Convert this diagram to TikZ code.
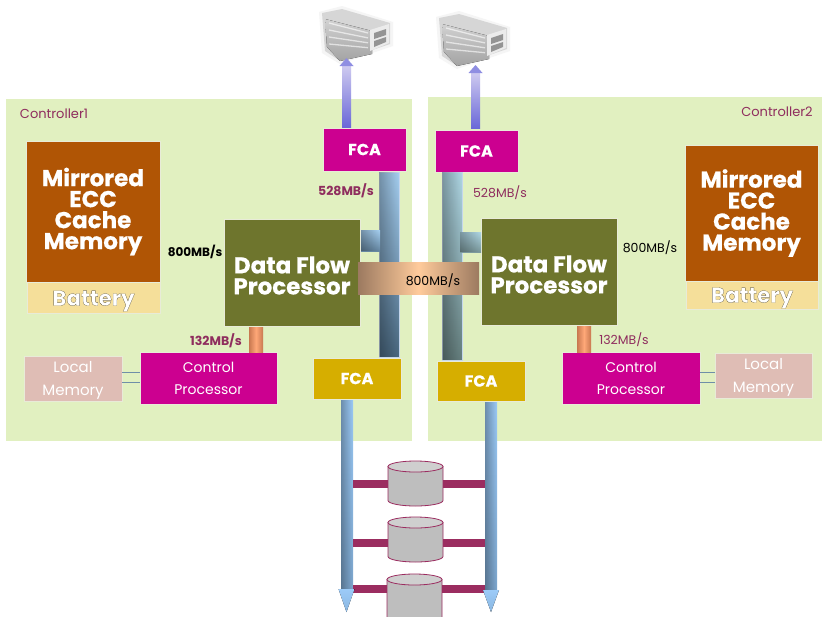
\documentclass[tikz,border=0pt]{standalone}
\usepackage{fontspec}
\setmainfont{Poppins}
\newfontfamily\heavy[UprightFont=* Bold,FakeBold=0.5]{Poppins}
\usetikzlibrary{fadings}
\definecolor{ctrlbg}{HTML}{E1F0C0}
\definecolor{cachebrown}{HTML}{B05505}
\definecolor{battery}{HTML}{F5DF9A}
\definecolor{olive}{HTML}{6E752D}
\definecolor{magbox}{HTML}{CC0090}
\definecolor{goldbox}{HTML}{D6AE00}
\definecolor{localmem}{HTML}{DFBDB5}
\definecolor{maroon}{HTML}{9B2D60}
\definecolor{labelmaroon}{HTML}{8F2D5E}
\definecolor{edge}{HTML}{E8EBD8}
\definecolor{A1}{HTML}{A6D0F2}
\definecolor{A2}{HTML}{4A6880}
\definecolor{A3}{HTML}{C4D6EC}
\definecolor{B1}{HTML}{B0D8E6}
\definecolor{B2}{HTML}{66807F}
\definecolor{diskbody}{HTML}{BEBEBE}
\definecolor{diskend}{HTML}{CFCFCF}
\definecolor{linkblue}{HTML}{6F8FA8}
\definecolor{busTop}{HTML}{9CCBF8}
\definecolor{busBot}{HTML}{7EA8D0}
\definecolor{upTop}{HTML}{CFCBF0}
\definecolor{upBot}{HTML}{6A68D8}
\definecolor{copperL}{HTML}{9C7A60}
\definecolor{copperM}{HTML}{FFCB9B}
\definecolor{orangeE}{HTML}{C87850}
\definecolor{orangeM}{HTML}{FFA878}
\tikzset{
  x=1pt,y=-1pt,
  base/.style={rectangle,inner sep=0pt,outer sep=0pt,align=center},
  ctrl/.style={base,fill=ctrlbg},
  cache/.style={base,fill=cachebrown,draw=edge,line width=.6pt,text=white,font=\heavy\fontsize{23}{21}\selectfont},
  batt/.style={base,fill=battery,draw=edge,line width=.6pt,text=white,font=\heavy\fontsize{21.5}{20}\selectfont},
  dfp/.style={base,fill=olive,draw=edge,line width=.8pt,text=white,font=\heavy\fontsize{23}{21}\selectfont},
  fcam/.style={base,fill=magbox,draw=edge,line width=.6pt,text=white,font=\heavy\fontsize{16}{18}\selectfont},
  fcag/.style={base,fill=goldbox,draw=edge,line width=.6pt,text=white,font=\heavy\fontsize{16}{18}\selectfont},
  cproc/.style={base,fill=magbox,draw=edge,line width=.6pt,text=white,font=\fontsize{14}{22}\selectfont},
  lmem/.style={base,fill=localmem,draw=edge,line width=.6pt,text=white,font=\fontsize{15}{23}\selectfont},
  barL/.style={base,top color=A1,bottom color=A2,draw=A3,line width=.5pt},
  barR/.style={base,top color=B1,bottom color=B2,draw=A3,line width=.5pt},
  orangestub/.style={base,left color=orangeE,right color=orangeE,middle color=orangeM},
  devbus/.style={base,top color=busTop,bottom color=busBot},
  uparrow/.style={base,top color=upTop,bottom color=upBot},
  rate/.style={inner sep=0pt,outer sep=0pt,font=\fontsize{12.5}{14}\selectfont},
  ratem/.style={rate,text=labelmaroon},
  ratemb/.style={ratem,font=\bfseries\fontsize{12.5}{14}\selectfont},
  ctitle/.style={inner sep=0pt,text=labelmaroon,font=\fontsize{13}{15}\selectfont},
  dbus/.style={draw=maroon,line width=8pt},
  thin link/.style={draw=linkblue,line width=.6pt},
  sheen/.style={fill=black,fill opacity=.3,path fading=east,draw=none},
}
% \bx{name}{x1}{y1}{x2}{y2}{style}{text}
\newcommand{\bx}[7]{%
  \pgfmathsetmacro{\bxcx}{(#2+#4)/2}%
  \pgfmathsetmacro{\bxcy}{(#3+#5)/2}%
  \pgfmathsetmacro{\bxw}{#4-#2}%
  \pgfmathsetmacro{\bxh}{#5-#3}%
  \node[#6,minimum width=\bxw pt,minimum height=\bxh pt] (#1) at (\bxcx,\bxcy) {#7};%
}
% white letters with a dark rim
\newcommand{\rim}[1]{\special{pdf:code 0.12 0.10 0.02 RG}#1}
% \srv{x}{y}: small grey server picture
\newcommand{\srv}[2]{%
  \begin{scope}[shift={(#1,#2)}]
    \fill[black!4] (-3,3)--(20,-3)--(71,13)--(71,37)--(18,55)--(0,44)--cycle;
    \fill[black!16] (0,4)--(20,0)--(68,14)--(68,35)--(18,52)--(3,42)--cycle;
    \fill[top color=black!18,bottom color=black!36] (3,10)--(50,22)--(50,45)--(18,52)--(5,38)--cycle;
    \foreach \k in {0,7,14,21}{\draw[white,line width=1.3pt,opacity=.6] (7,14+\k)--(46,24+\k*.7);}
    \fill[black!8] (48,21)--(67,15)--(67,34)--(48,42)--cycle;
    \fill[black!42] (52,24)--(64,20)--(64,26)--(52,30)--cycle;
    \fill[black!42] (52,32)--(64,28)--(64,33)--(52,38)--cycle;
  \end{scope}%
}
% \dsk{name}{x1}{ytop}{x2}{ybottom}: disk drum
\newcommand{\dsk}[5]{%
  \bx{#1}{#2}{#3}{#4}{#5}{base}{}%
  \pgfmathsetmacro{\dskrx}{(#4-#2)/2}%
  \filldraw[draw=maroon,fill=diskbody,line width=.8pt] (#1.north west)++(0,5.5) -- (#1.south west|-0,#5-5.5)
     arc[start angle=180,end angle=360,x radius=\dskrx,y radius=-5.5] -- (#1.north east|-0,#3+5.5) -- cycle;
  \filldraw[draw=maroon,fill=diskend,line width=.8pt] (#1.center|-0,#3+5.5) ellipse[x radius=\dskrx,y radius=5.5];%
}
\begin{document}
\begin{tikzpicture}
\useasboundingbox (0,0) rectangle (822,616);
\fill[white] (0,0) rectangle (822,616);
\begin{scope}
\clip (0,0) rectangle (822,616);

% controller panels
\bx{c1}{6}{99}{412}{441}{ctrl}{}
\bx{c2}{428}{97}{822}{441}{ctrl}{}
\node[ctitle] (c1t) at (54,114) {Controller1};
\node[ctitle] (c2t) at (777,112) {Controller2};

% servers
\srv{322}{9}
\srv{439}{14}

% cache
\bx{m1}{26}{141}{160}{282}{cache}{Mirrored\\ECC\\Cache\\Memory}
\bx{b1}{27}{282}{160}{313}{batt}{\rule{0pt}{22pt}\rim{Battery}}
\bx{m2}{685}{145}{818}{281}{cache}{Mirrored\\ECC\\Cache\\Memory}
\bx{b2}{686}{281}{818}{309}{batt}{\rule{0pt}{21pt}\rim{Battery}}

% host FCA
\bx{ft1}{323}{128}{406}{171}{fcam}{FCA}
\bx{ft2}{435}{130}{518}{172}{fcam}{FCA}

% bottom FCA
\bx{fb1}{313}{358}{401}{399}{fcag}{FCA}
\bx{fb2}{437}{361}{525}{401}{fcag}{FCA}

% up arrows to the servers
\bx{u1}{342}{65}{351}{127}{uparrow}{}
\bx{u2}{471}{72}{480}{128}{uparrow}{}
\fill[upBot!75!white] (u1.north west)++(-2.5,1)--++(14,0)--++(-7,-8)--cycle;
\fill[upBot!75!white] (u2.north west)++(-2.5,1)--++(14,0)--++(-7,-8)--cycle;

% vertical buses between FCAs
\bx{v1}{379}{172}{399}{357}{barL}{}
\bx{v2}{442}{172}{462}{360}{barR}{}
\fill[sheen] (v1.north west) rectangle (v1.south east);
\fill[sheen] (v2.north west) rectangle (v2.south east);

% data flow processors
\bx{d1}{224}{219}{360}{326}{dfp}{\rule{0pt}{23pt}Data Flow\\Processor}
\bx{d2}{481}{218}{617}{325}{dfp}{\rule{0pt}{23pt}Data Flow\\Processor}

% stubs from processor to bus
\bx{st1}{361}{230}{380}{251}{base,top color=A1,bottom color=A2!70!A1}{}
\bx{st2}{460}{232}{481}{252}{base,top color=B1,bottom color=B2!70!B1}{}
\fill[sheen] (st1.north west) rectangle (st1.south east);
\fill[sheen] (st2.north west) rectangle (st2.south east);

% inter-controller band
\bx{band}{358}{262}{479}{294}{base,left color=copperL,right color=copperL,middle color=copperM}{}
\node[rate,text=black] (bandt) at (433,281) {800MB/s};

% control processors and local memory
\bx{cp1}{140}{352}{277}{404}{cproc}{Control\\Processor}
\bx{cp2}{562}{352}{700}{404}{cproc}{Control\\Processor}
\bx{lm1}{24}{356}{122}{401}{lmem}{\rule{0pt}{15pt}Local\\Memory}
\bx{lm2}{715}{353}{812}{398}{lmem}{\rule{0pt}{15pt}Local\\Memory}
\draw[thin link] (lm1.east |- 0,372) -- (cp1.west |- 0,372);
\draw[thin link] (lm1.east |- 0,382) -- (cp1.west |- 0,382);
\draw[thin link] (cp2.east |- 0,372) -- (lm2.west |- 0,372);
\draw[thin link] (cp2.east |- 0,382) -- (lm2.west |- 0,382);

% 132 stubs
\bx{o1}{249}{327}{263}{352}{orangestub}{}
\bx{o2}{577}{326}{591}{352}{orangestub}{}

% rate labels
\node[ratemb] (r528a) at (346,191) {528MB/s};
\node[ratem] (r528b) at (500,193) {528MB/s};
\node[rate,text=black,font=\bfseries\fontsize{12}{14}\selectfont] (r800a) at (195,252) {800MB/s};
\node[rate,text=black] (r800b) at (650,248) {800MB/s};
\node[ratemb] (r132a) at (216,341) {132MB/s};
\node[ratem] (r132b) at (624,340) {132MB/s};

% disks
\dsk{dk1}{388}{461}{443}{506}
\dsk{dk2}{388}{517}{443}{562}
\dsk{dk3}{387}{574}{442}{630}

% device buses
\bx{dl}{341}{400}{353}{590}{devbus}{}
\bx{dr}{485}{402}{497}{590}{devbus}{}
\fill[sheen] (dl.north west) rectangle (dl.south east);
\fill[sheen] (dr.north west) rectangle (dr.south east);

\coordinate (y1) at (0,484);
\coordinate (y2) at (0,542.5);
\coordinate (y3) at (0,589);
\draw[dbus] (dl.east |- y1) -- (dk1.west |- y1);
\draw[dbus] (dk1.east |- y1) -- (dr.west |- y1);
\draw[dbus] (dl.east |- y2) -- (dk2.west |- y2);
\draw[dbus] (dk2.east |- y2) -- (dr.west |- y2);
\draw[dbus] (dl.east |- y3) -- (dk3.west |- y3);
\draw[dbus] (dk3.east |- y3) -- (dr.west |- y3);
\fill[top color=busTop,bottom color=busBot!60!busTop] (dl.south west)++(-2.5,-1)--++(16,0)--++(-8,23)--cycle;
\fill[top color=busTop,bottom color=busBot!60!busTop] (dr.south west)++(-2,0)--++(16,0)--++(-8,22)--cycle;
\end{scope}
\end{tikzpicture}
\end{document}
